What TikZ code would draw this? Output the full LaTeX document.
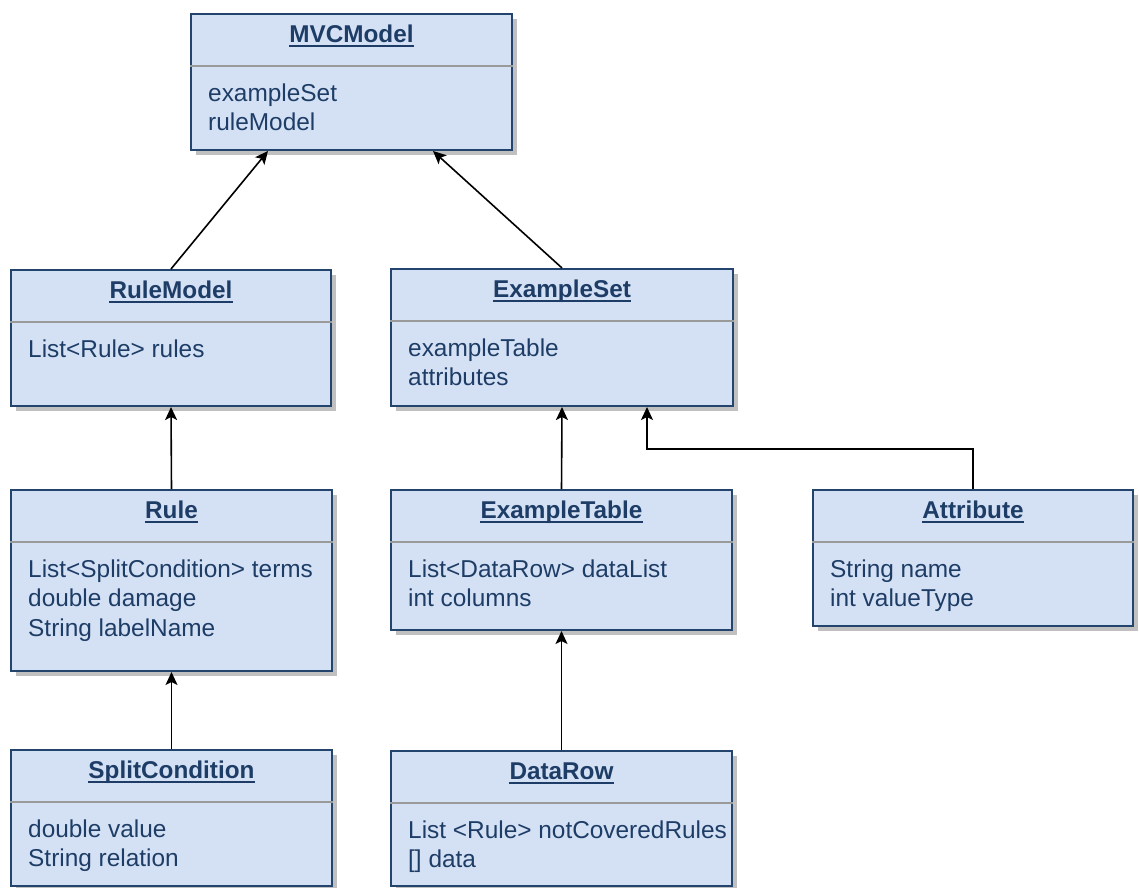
\documentclass[tikz,border=0pt]{standalone}
\usepackage{fontspec}
\setmainfont{Liberation Sans}
\usetikzlibrary{arrows.meta,shadows}

\definecolor{classfill}{HTML}{D4E1F5}
\definecolor{classline}{HTML}{23446D}
\definecolor{classtext}{HTML}{1E3D66}
\definecolor{sepline}{HTML}{9A9A9A}
\definecolor{shadowgray}{HTML}{C0C0C0}

\tikzset{
  classbox/.style={draw=classline, fill=classfill, line width=2pt, inner sep=0pt,
    anchor=north west,
    drop shadow={shadow xshift=4.5pt, shadow yshift=-4.5pt, fill=shadowgray, opacity=1}},
  classtitle/.style={font=\fontsize{24.3}{29}\selectfont\bfseries, text=classtext,
    inner sep=0pt, anchor=base},
  classattr/.style={font=\fontsize{24.4}{29.5}\selectfont, text=classtext,
    inner sep=0pt, anchor=base west},
  divider/.style={draw=sepline, line width=2pt},
  titleline/.style={draw=classtext, line width=1.8pt},
  inherit/.style={draw=black, line width=1.6pt,
    -{Stealth[length=13pt,width=12pt,inset=3pt]}}
}

% #1 name, #2 left, #3 top, #4 width, #5 height, #6 title, #7 attribute lines
\newcommand\umlclass[7]{%
  \node[classbox, minimum width=#4pt, minimum height=#5pt] (#1) at (#2,#3) {};
  \draw[divider] ([yshift=-53pt]#1.north west) -- ([yshift=-53pt]#1.north east);
  \node[classtitle] (#1-title) at ([yshift=-29pt]#1.north) {#6};
  \draw[titleline] ([yshift=-4pt]#1-title.base west) -- ([yshift=-4pt]#1-title.base east);
  \foreach \a [count=\i] in {#7} {
    \node[classattr] (#1-a\i) at ([xshift=18pt, yshift={-(88+(\i-1)*29.5)*1pt}]#1.north west) {\a};
  }%
}

\begin{document}
\begin{tikzpicture}[x=1pt, y=-1pt]
  \useasboundingbox (0,0) rectangle (1139,887);
  \fill[white] (0,0) rectangle (1139,887);

  \umlclass{mvc}{190}{13}{321}{136}{MVCModel}{exampleSet, ruleModel}
  \umlclass{rulemodel}{10}{269}{320}{136}{RuleModel}{List<Rule> rules}
  \umlclass{exampleset}{390}{268}{342}{137}{ExampleSet}{exampleTable, attributes}
  \umlclass{rule}{10}{489}{321}{181}{Rule}{List<SplitCondition> terms, double damage, String labelName}
  \umlclass{exampletable}{390}{489}{341}{140}{ExampleTable}{List<DataRow> dataList, int columns}
  \umlclass{attribute}{812}{489}{320}{136}{Attribute}{String name, int valueType}
  \umlclass{splitcond}{10}{749}{321}{136}{SplitCondition}{double value, String relation}
  \umlclass{datarow}{390}{750}{341}{135}{DataRow}{List <Rule> notCoveredRules, {[] data}}

  % connection points on the lower edges
  \coordinate (mvc-in1) at ([xshift=78pt]mvc.south west);
  \coordinate (mvc-in2) at ([xshift=243pt]mvc.south west);
  \coordinate (es-in) at ([xshift=257pt]exampleset.south west);
  \coordinate (es-bend) at ([yshift=-42pt]es-in);

  % generalisation arrows
  \draw[inherit] (rulemodel.north) -- (mvc-in1);
  \draw[inherit] (exampleset.north) -- (mvc-in2);
  \draw[inherit] (rule.north) -- (rulemodel.south);
  \draw[inherit] (splitcond.north) -- (rule.south);
  \draw[inherit] (exampletable.north) -- (exampleset.south);
  \draw[inherit] (datarow.north) -- (exampletable.south);
  \draw[inherit] (attribute.north) |- (es-bend) -- (es-in);
\end{tikzpicture}
\end{document}
